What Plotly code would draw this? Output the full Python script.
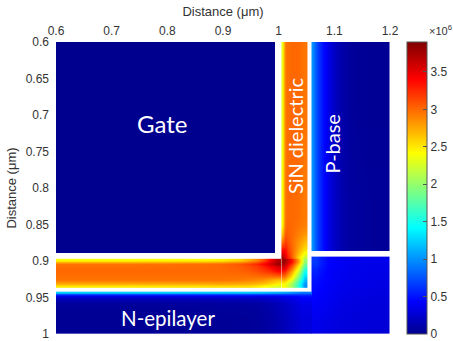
import plotly.graph_objects as go

# ---------------- data (field magnitude, units of 1e6) ----------------
# Gate region
gate_x = [0.6, 0.994]
gate_y = [0.6, 0.889]
gate_z = [[0.0]]

# SiN dielectric - vertical leg
diel_v_x = [1.005, 1.009, 1.015, 1.028, 1.041, 1.051]
diel_v_y = [0.6, 0.84, 0.865, 0.88, 0.89, 0.897]
diel_v_z = [
    [2.35, 2.95, 3.0, 3.0, 2.95],
    [2.45, 3.0, 3.0, 2.95, 2.9],
    [2.9, 3.15, 3.0, 2.85, 2.7],
    [3.4, 3.35, 3.05, 2.75, 2.5],
    [3.75, 3.5, 3.1, 2.6, 2.2],
]

# SiN dielectric - horizontal leg
diel_h_x = [0.6, 0.86, 0.93, 0.96, 0.978, 0.992, 1.005]
diel_h_y = [0.897, 0.901, 0.907, 0.92, 0.931, 0.937]
diel_h_z = [
    [2.4, 2.45, 2.7, 3.0, 3.4, 3.7],
    [2.95, 3.0, 3.15, 3.35, 3.6, 3.8],
    [3.0, 3.0, 3.05, 3.15, 3.25, 3.4],
    [2.95, 2.95, 2.9, 2.85, 2.75, 2.65],
    [2.5, 2.55, 2.55, 2.45, 2.35, 2.25],
]

# SiN dielectric - corner
diel_c_x = [1.005, 1.015, 1.028, 1.041, 1.051]
diel_c_y = [0.897, 0.905, 0.915, 0.926, 0.937]
diel_c_z = [
    [3.8, 3.4, 2.8, 2.0],
    [3.5, 3.0, 2.4, 1.6],
    [3.0, 2.6, 2.0, 1.3],
    [2.4, 2.1, 1.6, 1.0],
]

# P-base
pbase_x = [1.059, 1.063, 1.07, 1.082, 1.097, 1.115, 1.14, 1.2]
pbase_y = [0.6, 0.75, 0.886]
pbase_z = [
    [1.0, 0.8, 0.55, 0.33, 0.15, 0.05, 0.02],
    [1.0, 0.8, 0.55, 0.33, 0.17, 0.07, 0.04],
]

# region below P-base
sub_x = [1.059, 1.075, 1.1, 1.14, 1.2]
sub_y = [0.894, 0.91, 0.94, 0.97, 1.0]
sub_z = [
    [0.65, 0.45, 0.38, 0.35],
    [0.5, 0.42, 0.36, 0.33],
    [0.42, 0.38, 0.33, 0.3],
    [0.36, 0.33, 0.3, 0.28],
]

# N-epilayer
nepi_x = [0.6, 0.94, 0.99, 1.025, 1.059]
nepi_y = [0.942, 0.945, 0.95, 0.965, 1.0]
nepi_z = [
    [1.25, 1.2, 1.1, 0.9],
    [0.35, 0.35, 0.4, 0.5],
    [0.05, 0.08, 0.2, 0.35],
    [0.02, 0.05, 0.15, 0.3],
]

x_ticks = [0.6, 0.7, 0.8, 0.9, 1.0, 1.1, 1.2]
x_ticktext = ["0.6", "0.7", "0.8", "0.9", "1", "1.1", "1.2"]
y_ticks = [0.6, 0.65, 0.7, 0.75, 0.8, 0.85, 0.9, 0.95, 1.0]
y_ticktext = ["0.6", "0.65", "0.7", "0.75", "0.8", "0.85", "0.9", "0.95", "1"]
cb_ticks = [0, 0.5, 1, 1.5, 2, 2.5, 3, 3.5]
cb_ticktext = ["0", "0.5", "1", "1.5", "2", "2.5", "3", "3.5"]
c_max = 3.9

labels = [
    ("Gate", 0.790, 0.712, 0, 24),
    ("SiN dielectric", 1.029, 0.729, -90, 20),
    ("P-base", 1.0975, 0.739, -90, 20),
    ("N-epilayer", 0.801, 0.978, 0, 20.5),
]

jet = [
    [0.0, "rgb(0,0,143)"],
    [0.111, "rgb(0,0,255)"],
    [0.365, "rgb(0,255,255)"],
    [0.619, "rgb(255,255,0)"],
    [0.873, "rgb(255,0,0)"],
    [1.0, "rgb(128,0,0)"],
]

fig = go.Figure()

fig.add_trace(go.Heatmap(x=gate_x, y=gate_y, z=gate_z, coloraxis="coloraxis",
                         zsmooth=False, hoverinfo="skip"))
for xs, ys, zs in [(diel_v_x, diel_v_y, diel_v_z),
                   (diel_h_x, diel_h_y, diel_h_z),
                   (diel_c_x, diel_c_y, diel_c_z),
                   (pbase_x, pbase_y, pbase_z),
                   (sub_x, sub_y, sub_z),
                   (nepi_x, nepi_y, nepi_z)]:
    fig.add_trace(go.Heatmap(x=xs, y=ys, z=zs, coloraxis="coloraxis",
                             zsmooth="best", hoverinfo="skip"))

font_fam = "Liberation Sans, Arial, sans-serif"
txt_col = "#333333"

for text, x, y, ang, sz in labels:
    fig.add_annotation(x=x, y=y, xref="x", yref="y", text=text, showarrow=False,
                       textangle=ang, xanchor="center", yanchor="middle",
                       font=dict(family="Lato, Open Sans, sans-serif",
                                 size=sz, color="white"))

fig.add_annotation(x=1.111, y=1.041, xref="paper", yref="paper",
                   xanchor="left", yanchor="middle",
                   text="×10<sup>6</sup>", showarrow=False,
                   font=dict(family=font_fam, size=11, color=txt_col))

fig.update_layout(
    width=453, height=341,
    margin=dict(l=56, r=63, t=42, b=7, autoexpand=False),
    paper_bgcolor="white", plot_bgcolor="white",
    font=dict(family=font_fam, size=12, color=txt_col),
    coloraxis=dict(
        colorscale=jet, cmin=0, cmax=c_max,
        colorbar=dict(
            x=1.051, xanchor="left", xpad=0, ypad=0,
            y=0.5, yanchor="middle", len=1.0, lenmode="fraction",
            thickness=20, outlinewidth=1, outlinecolor="#555555",
            tickvals=cb_ticks, ticktext=cb_ticktext,
            ticks="inside", ticklen=4, tickcolor="#555555",
            ticklabeloverflow="allow",
            tickfont=dict(family=font_fam, size=12, color=txt_col),
        ),
    ),
    xaxis=dict(
        side="top", range=[0.6, 1.2], tickvals=x_ticks, ticktext=x_ticktext,
        showgrid=False, zeroline=False, showline=False, ticks="",
        ticklabelstandoff=4, ticklabeloverflow="allow",
        title=dict(text="Distance (μm)", standoff=4,
                   font=dict(family=font_fam, size=13, color=txt_col)),
    ),
    yaxis=dict(
        range=[1.0, 0.6], tickvals=y_ticks, ticktext=y_ticktext,
        showgrid=False, zeroline=False, showline=False, ticks="",
        ticklabelstandoff=6, ticklabeloverflow="allow",
        title=dict(text="Distance (μm)", standoff=6,
                   font=dict(family=font_fam, size=13, color=txt_col)),
    ),
)

fig.write_html("out.html")
